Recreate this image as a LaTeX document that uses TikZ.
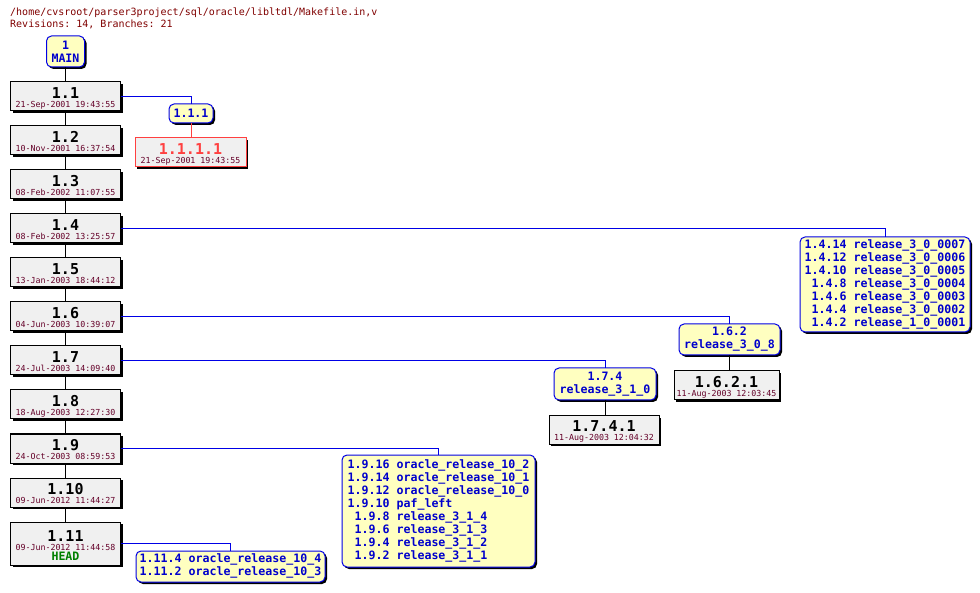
\documentclass[tikz,border=0pt]{standalone}
\usepackage{fontspec}
\setmonofont{DejaVu Sans Mono}
\usepackage{tikz}
\usetikzlibrary{positioning,shadows}
\definecolor{cvsblue}{RGB}{0,0,204}
\definecolor{cvsline}{RGB}{0,0,230}
\definecolor{cvsdate}{RGB}{100,0,40}
\definecolor{cvstitle}{RGB}{128,0,0}
\definecolor{cvsred}{RGB}{255,64,64}
\definecolor{cvsgreen}{RGB}{0,128,0}
\definecolor{revfill}{RGB}{240,240,240}
\definecolor{tagfill}{RGB}{255,255,192}
\newcommand{\revnum}{\bfseries\fontsize{15}{15}\selectfont}
\newcommand{\revdate}{\color{cvsdate}\fontsize{8.3}{9}\selectfont}
\newcommand{\tagtxt}{\bfseries\fontsize{11.6}{13}\selectfont}
\newcommand{\revlabel}[2]{{\revnum\rule{0pt}{14pt}#1}\\{\revdate #2}}

\begin{document}
\begin{tikzpicture}[x=1pt,y=-1pt]
\tikzset{boxshadow/.style={drop shadow={shadow xshift=2pt,shadow yshift=-2pt,fill=black,opacity=1}}}
\tikzset{rev/.style={draw=black,fill=revfill,line width=1pt,boxshadow,minimum width=110pt,minimum height=29pt,
  inner sep=0pt,outer sep=0pt,align=center,font=\ttfamily\fontsize{8.3}{9}\selectfont}}
\tikzset{tag/.style={draw=cvsline,fill=tagfill,rounded corners=5pt,line width=1pt,boxshadow,text=cvsblue,
  inner sep=0pt,outer sep=0pt,align=center,font=\ttfamily\tagtxt}}
\tikzset{trunk/.style={black,line width=1pt}}
\tikzset{branch/.style={cvsline,line width=1pt}}
	\fill[white] (0,0) rectangle (980,593);
	\useasboundingbox (0,0) rectangle (980,593);
	\node[anchor=north west,inner sep=0pt,align=left,text=cvstitle,font=\ttfamily\fontsize{10}{12}\selectfont] (title) at (10,8)
		{/home/cvsroot/parser3project/sql/oracle/libltdl/Makefile.in,v\\Revisions: 14, Branches: 21};
	\node[tag,anchor=north,minimum width=38pt,minimum height=31pt] (main) at (65.5,36) {1\\MAIN};
	\node[rev,anchor=north] (r1_1) at (65.5,82) {\revlabel{1.1}{21-Sep-2001 19:43:55}};
	\node[rev,below=15pt of r1_1] (r1_2) {\revlabel{1.2}{10-Nov-2001 16:37:54}};
	\node[rev,below=15pt of r1_2] (r1_3) {\revlabel{1.3}{08-Feb-2002 11:07:55}};
	\node[rev,below=15pt of r1_3] (r1_4) {\revlabel{1.4}{08-Feb-2002 13:25:57}};
	\node[rev,below=15pt of r1_4] (r1_5) {\revlabel{1.5}{13-Jan-2003 18:44:12}};
	\node[rev,below=15pt of r1_5] (r1_6) {\revlabel{1.6}{04-Jun-2003 10:39:07}};
	\node[rev,below=15pt of r1_6] (r1_7) {\revlabel{1.7}{24-Jul-2003 14:09:40}};
	\node[rev,below=15pt of r1_7] (r1_8) {\revlabel{1.8}{18-Aug-2003 12:27:30}};
	\node[rev,below=15pt of r1_8] (r1_9) {\revlabel{1.9}{24-Oct-2003 08:59:53}};
	\node[rev,below=15pt of r1_9] (r1_10) {\revlabel{1.10}{09-Jun-2012 11:44:27}};
	\node[rev,below=15pt of r1_10,minimum height=43pt] (r1_11)
		{\revlabel{1.11}{09-Jun-2012 11:44:58}\\[1pt]{\tagtxt\color{cvsgreen}HEAD}};
		\path[draw,trunk] (main) -- (r1_1);
		\foreach \a/\b in {1/2,2/3,3/4,4/5,5/6,6/7,7/8,8/9,9/10,10/11}
			\path[draw,trunk] (r1_\a) -- (r1_\b);
	% branch 1.1.1
	\node[tag,anchor=north,minimum width=44pt,minimum height=19pt] (b1_1_1) at (191,104) {1.1.1};
	\node[rev,anchor=north,draw=cvsred,minimum width=111pt] (r1_1_1_1) at (190.5,138)
		{\revlabel{\color{cvsred}1.1.1.1}{21-Sep-2001 19:43:55}};
		\path[draw,branch] (r1_1) -| (b1_1_1);
		\path[draw,cvsred,line width=1pt] (b1_1_1.south) -- (b1_1_1.south |- r1_1_1_1.north);
	% branch 1.4
	\node[tag,anchor=north,minimum width=170pt,minimum height=95pt] (b1_4) at (885,237)
		{\begin{tabular}{@{}r@{\ }l@{}}
		1.4.14 & release\_3\_0\_0007\\
		1.4.12 & release\_3\_0\_0006\\
		1.4.10 & release\_3\_0\_0005\\
		1.4.8 & release\_3\_0\_0004\\
		1.4.6 & release\_3\_0\_0003\\
		1.4.4 & release\_3\_0\_0002\\
		1.4.2 & release\_1\_0\_0001
		\end{tabular}};
		\path[draw,branch] (r1_4) -| (b1_4);
	% branch 1.6.2
	\node[tag,anchor=north,minimum width=101pt,minimum height=31pt] (b1_6_2) at (729.5,324) {1.6.2\\release\_3\_0\_8};
	\node[rev,anchor=north,minimum width=105pt] (r1_6_2_1) at (726.5,371) {\revlabel{1.6.2.1}{11-Aug-2003 12:03:45}};
		\path[draw,branch] (r1_6) -| (b1_6_2);
		\path[draw,trunk] (b1_6_2.south) -- (b1_6_2.south |- r1_6_2_1.north);
	% branch 1.7.4
	\node[tag,anchor=north,minimum width=102pt,minimum height=32pt] (b1_7_4) at (605,368) {1.7.4\\release\_3\_1\_0};
	\node[rev,anchor=north,minimum height=28pt] (r1_7_4_1) at (604,416) {\revlabel{1.7.4.1}{11-Aug-2003 12:04:32}};
		\path[draw,branch] (r1_7) -| (b1_7_4);
		\path[draw,trunk] (b1_7_4.south) -- (b1_7_4.south |- r1_7_4_1.north);
	% branch 1.9
	\node[tag,anchor=north,minimum width=193pt,minimum height=112pt] (b1_9) at (438.5,455)
		{\begin{tabular}{@{}r@{\ }l@{}}
		1.9.16 & oracle\_release\_10\_2\\
		1.9.14 & oracle\_release\_10\_1\\
		1.9.12 & oracle\_release\_10\_0\\
		1.9.10 & paf\_left\\
		1.9.8 & release\_3\_1\_4\\
		1.9.6 & release\_3\_1\_3\\
		1.9.4 & release\_3\_1\_2\\
		1.9.2 & release\_3\_1\_1
		\end{tabular}};
		\path[draw,branch] (r1_9) -| (b1_9);
	% branch 1.11
	\node[tag,anchor=north,minimum width=189pt,minimum height=31pt] (b1_11) at (230.5,551)
		{\begin{tabular}{@{}r@{\ }l@{}}
		1.11.4 & oracle\_release\_10\_4\\
		1.11.2 & oracle\_release\_10\_3
		\end{tabular}};
		\path[draw,branch] (r1_11) -| (b1_11);
\end{tikzpicture}
\end{document}
